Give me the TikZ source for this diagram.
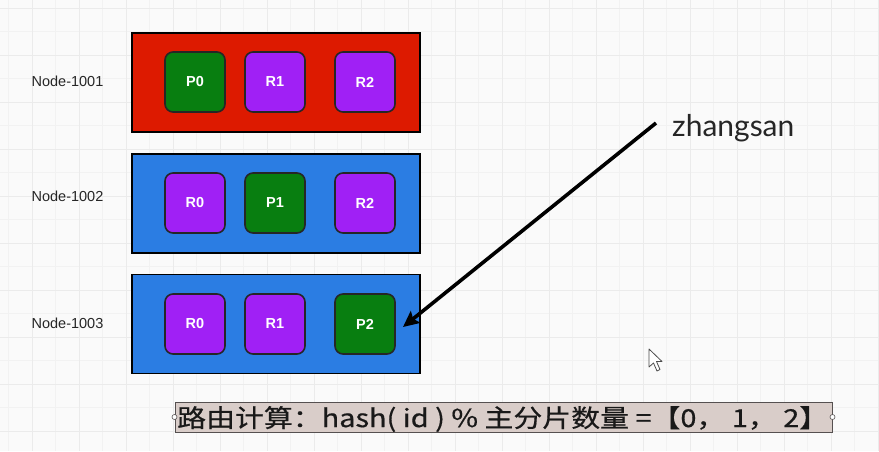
\documentclass[tikz,border=0pt]{standalone}
\usepackage{fontspec}
\setmainfont{Liberation Sans}
\newfontfamily\cjkfont[FakeBold=0.5]{Noto Sans CJK SC}
\newfontfamily\roundfont{Lato}
\usetikzlibrary{arrows.meta}
\definecolor{bgc}{HTML}{FAFAFA}
\definecolor{gridminor}{HTML}{F2F2F2}
\definecolor{gridmajor}{HTML}{EBEBEB}
\definecolor{nodered}{HTML}{DD1A00}
\definecolor{nodeblue}{HTML}{2B7DE3}
\definecolor{shgreen}{HTML}{087E10}
\definecolor{shpurple}{HTML}{A020F5}
\definecolor{capfill}{HTML}{D9CDC9}
\definecolor{capline}{HTML}{555050}
\tikzset{
  hostbox/.style={draw=black, line width=1.8pt, minimum width=288pt, minimum height=99pt, inner sep=0pt},
  shard/.style={draw=black!85, line width=1.6pt, rounded corners=8pt, minimum width=60pt, minimum height=60pt, inner sep=0pt, text=white, font=\fontsize{14.5}{16}\selectfont\bfseries},
  primary/.style={shard, fill=shgreen},
  replica/.style={shard, fill=shpurple},
  hostlabel/.style={font=\fontsize{14.5}{16}\selectfont, text=black!85},
  handle/.style={circle, draw=capline, fill=white, inner sep=0pt, minimum size=5pt, line width=0.6pt}
}
\begin{document}
\begin{tikzpicture}[x=1pt,y=-1pt]
\fill[bgc] (0,0) rectangle (879,451);
\useasboundingbox (0,0) rectangle (879,451);
% grid
\foreach \i in {-10,...,40} {
  \draw[gridminor, line width=0.8pt] ({8.5+23.5*\i},0) -- ({8.5+23.5*\i},451);
  \draw[gridminor, line width=0.8pt] (0,{8+23.5*\i}) -- (879,{8+23.5*\i});
}
\foreach \i in {-5,...,20} {
  \draw[gridmajor, line width=1pt] ({32+47*\i},0) -- ({32+47*\i},451);
  \draw[gridmajor, line width=1pt] (0,{8+47*\i}) -- (879,{8+47*\i});
}
% hosts
\node[hostbox, fill=nodered]  (h1) at (276,82.5) {};
\node[hostbox, fill=nodeblue] (h2) at (276,203.5) {};
\node[hostbox, fill=nodeblue] (h3) at (276,324) {};
\node[hostlabel] (l1) at (67.5,81) {Node-1001};
\node[hostlabel] (l2) at (67.5,196) {Node-1002};
\node[hostlabel] (l3) at (67.5,323) {Node-1003};
% shards
\node[primary] (a0) at (195,82) {P0};
\node[replica] (a1) at (275,82) {R1};
\node[replica] (a2) at (365,82) {R2};
\node[replica] (b0) at (195,203) {R0};
\node[primary] (b1) at (275,203) {P1};
\node[replica] (b2) at (365,203) {R2};
\node[replica] (c0) at (195,324) {R0};
\node[replica] (c1) at (275,324) {R1};
\node[primary] (c2) at (365,324) {P2};
% request
\node[font=\roundfont\fontsize{30}{34}\selectfont, text=black!85, anchor=west, inner sep=0pt] (zs) at (672,128) {zhangsan};
\coordinate (s) at (656,123);
\coordinate (tip) at (403,327);
\draw[line width=3.6pt, -{Stealth[length=16pt,width=15pt,inset=3pt]}] (s) -- (tip);
% cursor
\draw[fill=white, draw=black!70, line width=0.8pt, line join=round]
  (649,349) -- (649,367) -- (653.5,363) -- (657,371) -- (660,369.5) -- (656.5,361.5) -- (662,361.5) -- cycle;
% caption
\node[draw=capline, fill=capfill, line width=1pt, minimum width=657pt, minimum height=30pt, inner sep=0pt] (cap) at (503.5,417) {};
\node[anchor=west, inner sep=0pt, font=\cjkfont\fontsize{23}{26}\selectfont, text=black!90] (captext) at (177,419)
  {\resizebox{651pt}{21pt}{路由计算：hash( id ) \% 主分片数量 =【0， 1， 2】}};
\node[handle] (hl) at (cap.west) {};
\node[handle] (hr) at (cap.east) {};
\end{tikzpicture}
\end{document}
